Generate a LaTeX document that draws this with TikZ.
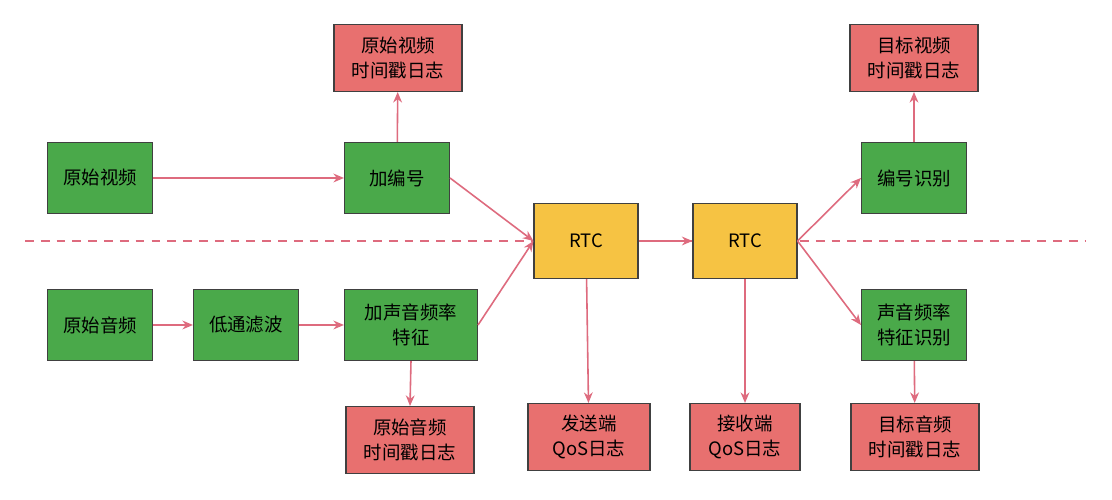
\documentclass[tikz,border=0pt]{standalone}
\usepackage{fontspec}
\setmainfont{Noto Sans CJK SC}
\usepackage{xcolor}
\usetikzlibrary{arrows.meta, positioning}
\definecolor{boxgreen}{HTML}{4AA94A}
\definecolor{boxred}{HTML}{E8706F}
\definecolor{boxyellow}{HTML}{F6C343}
\definecolor{linkpink}{HTML}{DE6B7E}
\tikzset{
  box/.style={draw=black!75, line width=0.6pt, align=center, font=\fontsize{10.5}{14}\selectfont},
  src/.style={box, fill=boxgreen, minimum width=2.1cm, minimum height=1.42cm},
  wide/.style={src, minimum width=2.66cm},
  logbox/.style={box, fill=boxred, minimum width=2.56cm, minimum height=1.34cm},
  rtc/.style={box, fill=boxyellow, minimum width=2.08cm, minimum height=1.5cm},
  link/.style={draw=linkpink, line width=0.9pt, -{Stealth[length=6pt,width=5pt]}}
}
\begin{document}
\begin{tikzpicture}
        \useasboundingbox (0,0) rectangle (22.24,10);
        \fill[white] (0,0) rectangle (22.24,10);
        % Divider
        \draw[linkpink, line width=0.7pt, dash pattern=on 5pt off 4pt] (0.5,5.18) -- (21.7,5.18);
        % Video path
        \node[src] (vsrc) at (2.0,6.44) {原始视频};
        \node[src] (vnum) at (7.94,6.44) {加编号};
        \node[logbox] (vlog) at (7.96,8.84) {原始视频\\时间戳日志};
        % RTC nodes
        \node[rtc] (rtcA) at (11.72,5.18) {RTC};
        \node[rtc] (rtcB) at (14.9,5.18) {RTC};
        % Receiver side
        \node[src] (vid) at (18.28,6.44) {编号识别};
        \node[logbox] (vtgt) at (18.28,8.84) {目标视频\\时间戳日志};
        \node[src] (aid) at (18.28,3.5) {声音频率\\特征识别};
        \node[logbox] (atgt) at (18.3,1.26) {目标音频\\时间戳日志};
        % Audio path
        \node[src] (asrc) at (2.0,3.5) {原始音频};
        \node[src] (lpf) at (4.92,3.5) {低通滤波};
        \node[wide] (afeat) at (8.22,3.5) {加声音频率\\特征};
        \node[logbox] (alog) at (8.2,1.2) {原始音频\\时间戳日志};
        % QoS logs
        \node[logbox, minimum width=2.44cm] (qsend) at (11.78,1.26) {发送端\\QoS日志};
        \node[logbox, minimum width=2.2cm] (qrecv) at (14.9,1.26) {接收端\\QoS日志};
        % Connectors
        \draw[link] (vsrc) -- (vnum);
        \draw[link] (vnum) -- (vlog);
        \draw[link] (vnum.east) -- (rtcA.west);
        \draw[link] (asrc) -- (lpf);
        \draw[link] (lpf) -- (afeat);
        \draw[link] (afeat.east) -- (rtcA.west);
        \draw[link] (afeat.south) -- (alog.north);
        \draw[link] (rtcA) -- (rtcB);
        \draw[link] (rtcA) -- (qsend);
        \draw[link] (rtcB) -- (qrecv);
        \draw[link] (rtcB.east) -- (vid.west);
        \draw[link] (rtcB.east) -- (aid.west);
        \draw[link] (vid) -- (vtgt);
        \draw[link] (aid) -- (atgt);
\end{tikzpicture}
\end{document}
